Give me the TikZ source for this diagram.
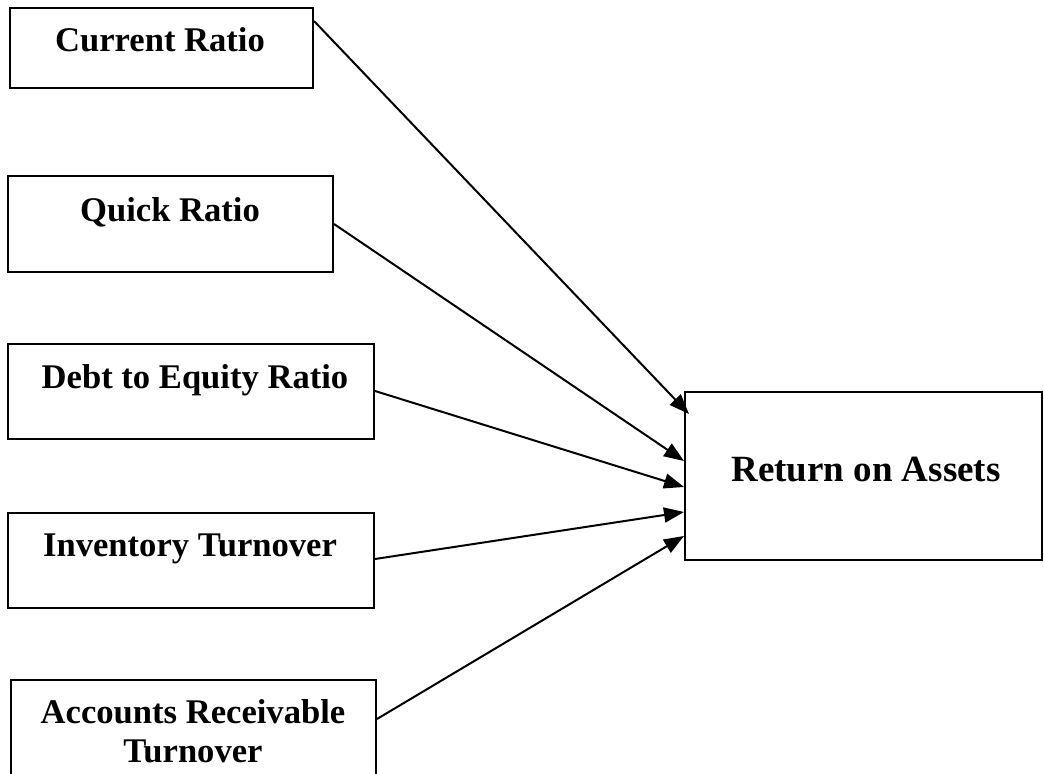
\documentclass[tikz,border=0pt]{standalone}
\usepackage{fontspec}
\setmainfont{Liberation Serif}
\usepackage{tikz}
\usetikzlibrary{arrows.meta,calc}
\tikzstyle{ratiobox}=[draw,line width=1pt,inner sep=0pt]
\tikzstyle{boxtext}=[font=\bfseries\fontsize{17.3}{19.5}\selectfont,anchor=base,inner sep=0pt,align=center]
\tikzstyle{bigtext}=[boxtext,font=\bfseries\fontsize{18.5}{21}\selectfont]
\tikzstyle{edge} = [draw,line width=1pt,-{Triangle[length=10pt,width=7.5pt]}]

\begin{document}
\begin{tikzpicture}[x=0.5pt,y=-0.5pt]
    \useasboundingbox (0,0) rectangle (1044,774);
    \clip (0,0) rectangle (1044,774);

    % boxes
    \foreach \pos/ \name/ \w/ \h in {{(161.5,48)/cr/303/80}, {(170.5,224)/qr/325/96}, {(191,391.5)/de/366/95}, {(191,560.5)/it/366/95}, {(193.5,740)/ar/365/120}, {(863.5,476)/roa/357/168}}
        \node[ratiobox,minimum width=\w*0.5pt,minimum height=\h*0.5pt] (\name) at \pos {};

    % labels
    \foreach \pos/ \name/ \txt in {{(160,52)/crtext/Current Ratio}, {(170,222)/qrtext/Quick Ratio}, {(195,389)/detext/Debt to Equity Ratio}, {(190,557)/ittext/Inventory Turnover}, {(193,762)/artext/Accounts Receivable\\Turnover}}
        \node[boxtext] (\name) at \pos {\txt};
    \node[bigtext] (roatext) at (866,482) {Return on Assets};

    % arrows into return on assets
    \foreach \source/ \sy/ \dx/ \dy in {cr/14/5/23, qr/49/0/70, de/48/0/96, it/47/0/121, ar/40/0/145}
        \path[edge] ($(\source.north east)+(0,\sy)$) -- ($(roa.north west)+(\dx,\dy)$);

\end{tikzpicture}
\end{document}
